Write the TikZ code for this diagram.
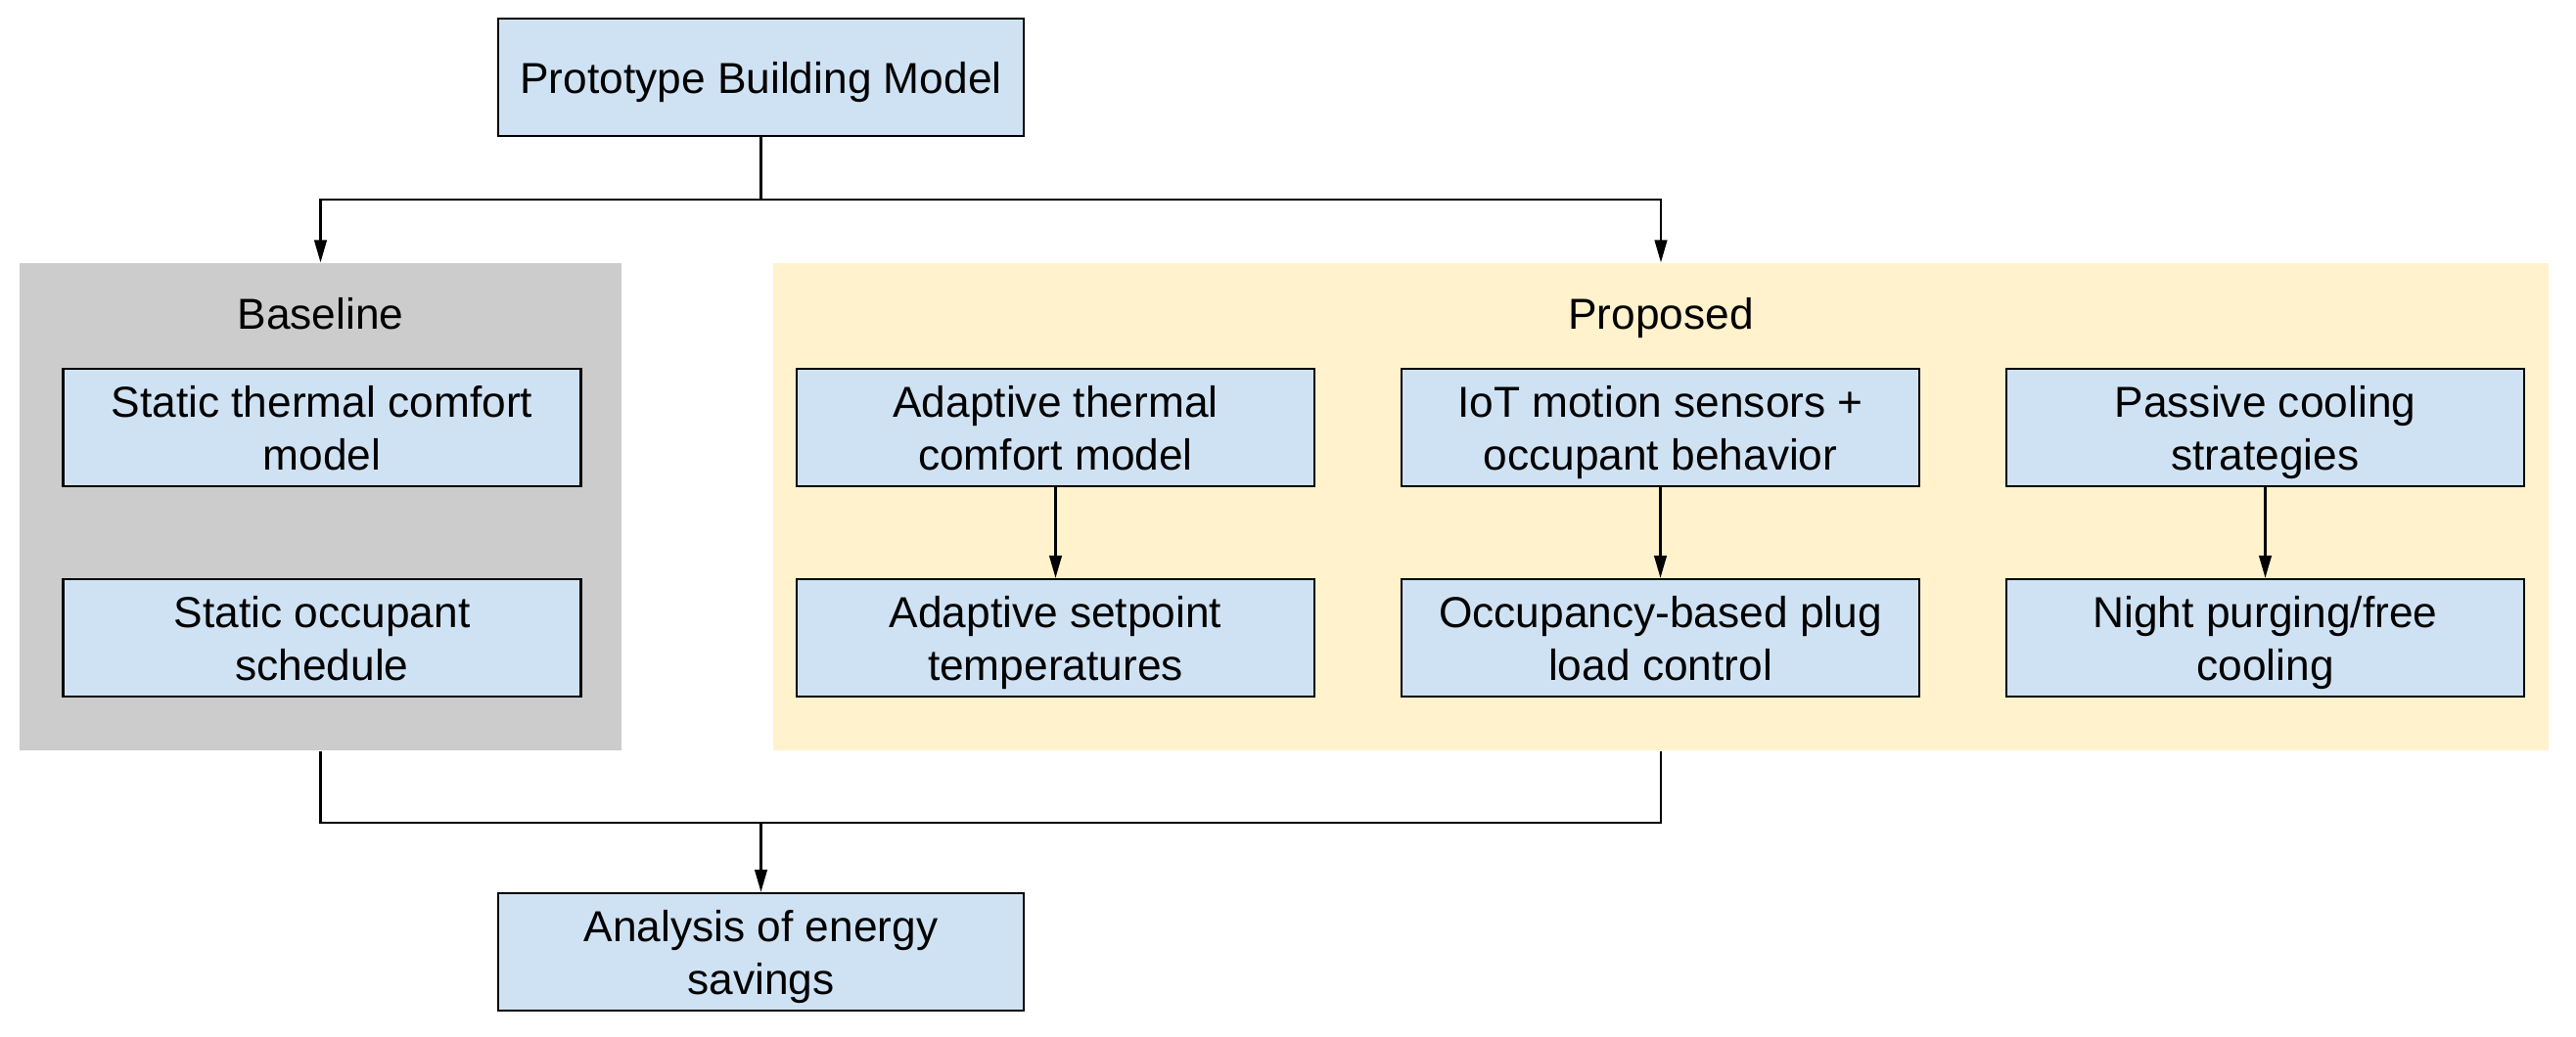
\documentclass[tikz,border=0pt]{standalone}
\usepackage{fontspec}
\setmainfont{Liberation Sans}
\usetikzlibrary{arrows.meta,positioning}
\definecolor{boxblue}{HTML}{CFE2F3}
\definecolor{basegray}{HTML}{CCCCCC}
\definecolor{propyellow}{HTML}{FFF2CC}
\newcommand\lst{\rule[-3.1pt]{0pt}{15.4pt}}
\begin{document}
\begin{tikzpicture}[
  font=\fontsize{12.6}{15.4}\selectfont,
  box/.style={draw=black, line width=0.7pt, fill=boxblue, align=center, inner sep=0pt},
  wbox/.style={box, minimum width=5.37cm, minimum height=1.2cm},
  ibox/.style={box, minimum width=5.29cm, minimum height=1.2cm},
  panel/.style={inner sep=0pt, draw=none},
  conn/.style={line width=0.6pt, draw=black},
  arr/.style={conn, -{Triangle[length=6.5pt,width=3.6pt]}},
  title/.style={inner sep=0pt}
]
\useasboundingbox (0,0) rectangle (26.32,-10.60);
% panels
\node[panel, fill=basegray, minimum width=6.15cm, minimum height=4.98cm] (basepanel) at (3.275,-5.18) {};
\node[panel, fill=propyellow, minimum width=18.14cm, minimum height=4.98cm] (proppanel) at (16.97,-5.18) {};
\node[title] (basetitle) at (3.275,-3.20) {\lst Baseline};
\node[title] (proptitle) at (16.97,-3.20) {\lst Proposed};
% boxes
\node[wbox] (proto) at (7.775,-0.79) {\lst Prototype Building Model};
\node[ibox] (st1) at (3.29,-4.37) {\lst Static thermal comfort\\\lst model};
\node[ibox] (st2) at (3.29,-6.52) {\lst Static occupant\\\lst schedule};
\node[ibox] (ad1) at (10.785,-4.37) {\lst Adaptive thermal\\\lst comfort model};
\node[ibox] (ad2) at (10.785,-6.52) {\lst Adaptive setpoint\\\lst temperatures};
\node[ibox] (io1) at (16.965,-4.37) {\lst IoT motion sensors +\\\lst occupant behavior};
\node[ibox] (io2) at (16.965,-6.52) {\lst Occupancy-based plug\\\lst load control};
\node[ibox] (pa1) at (23.145,-4.37) {\lst Passive cooling\\\lst strategies};
\node[ibox] (pa2) at (23.145,-6.52) {\lst Night purging/free\\\lst cooling};
\node[wbox] (ana) at (7.775,-9.73) {\lst Analysis of energy\\\lst savings};
% coordinates
\coordinate (split) at (7.775,-2.04);
\coordinate (merge) at (7.775,-8.41);
% connectors
\draw[conn] (proto.south) -- (split);
\draw[arr] (split) -| (basepanel.north);
\draw[arr] (split) -| (proppanel.north);
\draw[arr] (ad1.south) -- (ad2.north);
\draw[arr] (io1.south) -- (io2.north);
\draw[arr] (pa1.south) -- (pa2.north);
\draw[conn] (basepanel.south) |- (merge);
\draw[conn] (proppanel.south) |- (merge);
\draw[arr] (merge) -- (ana.north);
\end{tikzpicture}
\end{document}
